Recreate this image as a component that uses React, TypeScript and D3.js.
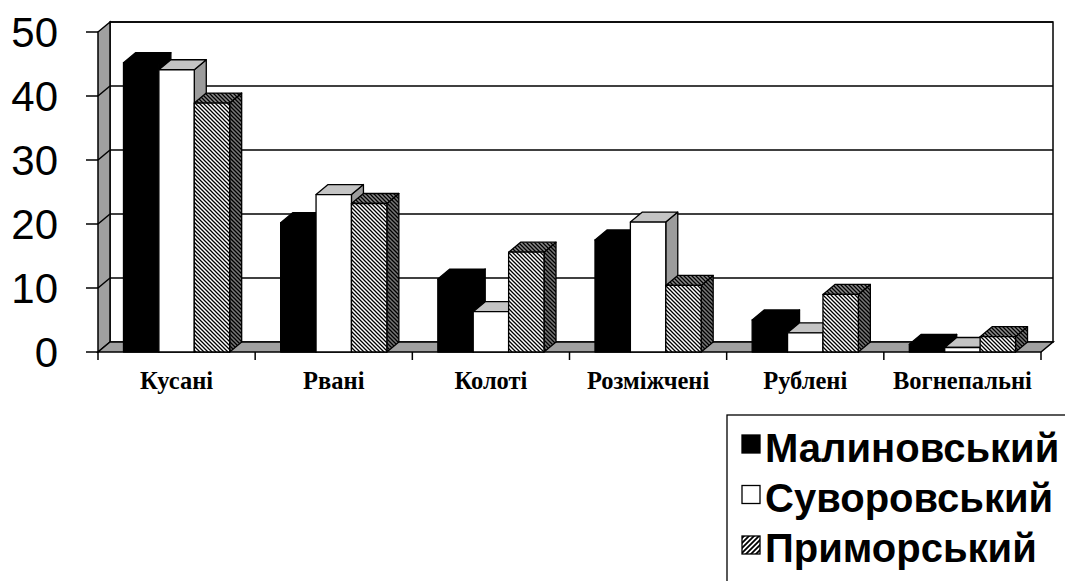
import * as d3 from 'd3';

const categories = ['Кусані', 'Рвані', 'Колоті', 'Розміжчені', 'Рублені', 'Вогнепальні'];
const seriesNames = ['Малиновський', 'Суворовський', 'Приморський'];
const malynovskyi = [45.2, 20.2, 11.4, 17.5, 5.0, 1.2];
const suvorovskyi = [44.1, 24.6, 6.3, 20.3, 3.0, 0.7];
const prymorskyi = [38.9, 23.2, 15.6, 10.4, 9.0, 2.4];
const yTicks = [0, 10, 20, 30, 40, 50];

const W = 1065;
const H = 581;
// 3D depth offset of the walls and columns
const DX = 12;
const DY = 10;
const left = 98;
const right = 1041;
const base = 352;
const top = 32;

const faces = [
  { front: '#000', top: '#000', side: '#000' },
  { front: '#fff', top: '#c4c4c4', side: '#9c9c9c' },
  { front: 'url(#hatchFront)', top: 'url(#hatchTop)', side: 'url(#hatchSide)' },
];
const legendFills = ['#000', '#fff', 'url(#hatchLegend)'];

const pts = (p: number[][]) => p.map(d => d.join(',')).join(' ');

export default function App() {
  const series = [malynovskyi, suvorovskyi, prymorskyi];
  const x = d3.scaleBand<string>().domain(categories).range([left, right]).padding(0);
  const xs = d3.scaleBand<number>().domain([0, 1, 2]).range([0, x.step()]).paddingInner(0).paddingOuter(0.72);
  const y = d3.scaleLinear().domain([0, 50]).range([base, top]);
  const bw = xs.bandwidth();

  const bars: JSX.Element[] = [];
  categories.forEach((c, ci) => {
    series.forEach((vals, si) => {
      const x0 = (x(c) as number) + (xs(si) as number);
      const yt = y(vals[ci]);
      const f = faces[si];
      bars.push(
        <g key={`${ci}-${si}`} stroke="#000" strokeWidth={1.3} strokeLinejoin="round">
          <polygon fill={f.side} points={pts([[x0 + bw, yt], [x0 + bw + DX, yt - DY], [x0 + bw + DX, base - DY], [x0 + bw, base]])} />
          <polygon fill={f.top} points={pts([[x0, yt], [x0 + DX, yt - DY], [x0 + bw + DX, yt - DY], [x0 + bw, yt]])} />
          <rect fill={f.front} x={x0} y={yt} width={bw} height={base - yt} />
        </g>
      );
    });
  });

  const boundaries = d3.range(categories.length + 1).map(i => left + i * x.step());

  return (
    <svg width={W} height={H} style={{ position: 'absolute', left: 0, top: 0, background: '#fff' }}>
      <defs>
        <pattern id="hatchFront" patternUnits="userSpaceOnUse" width={4} height={4}>
          <rect width={4} height={4} fill="#fff" />
          <path d="M-1,-1 L5,5 M-1,3 L1,5 M3,-1 L5,1" stroke="#000" strokeWidth={1.3} />
        </pattern>
        <pattern id="hatchTop" patternUnits="userSpaceOnUse" width={4} height={4}>
          <rect width={4} height={4} fill="#8a8a8a" />
          <path d="M-1,-1 L5,5 M-1,3 L1,5 M3,-1 L5,1" stroke="#000" strokeWidth={1.3} />
        </pattern>
        <pattern id="hatchSide" patternUnits="userSpaceOnUse" width={4} height={4}>
          <rect width={4} height={4} fill="#777" />
          <path d="M-1,-1 L5,5 M-1,3 L1,5 M3,-1 L5,1" stroke="#000" strokeWidth={1.3} />
        </pattern>
        <pattern id="hatchLegend" patternUnits="userSpaceOnUse" width={5} height={5}>
          <rect width={5} height={5} fill="#fff" />
          <path d="M-1,6 L6,-1 M-1,1 L1,-1 M4,6 L6,4" stroke="#000" strokeWidth={1.8} />
        </pattern>
      </defs>

      {/* back wall */}
      <rect x={left + DX} y={top - DY} width={right - left} height={base - top} fill="#fff" stroke="#000" strokeWidth={1.5} />
      {yTicks.slice(1).map(t => (
        <line key={`g${t}`} x1={left + DX} x2={right + DX} y1={y(t) - DY} y2={y(t) - DY} stroke="#000" strokeWidth={1.5} />
      ))}

      {/* side wall */}
      <polygon points={pts([[left, top], [left + DX, top - DY], [left + DX, base - DY], [left, base]])} fill="#a0a0a0" stroke="#000" strokeWidth={1.5} />
      {yTicks.slice(1, -1).map(t => (
        <line key={`w${t}`} x1={left} x2={left + DX} y1={y(t)} y2={y(t) - DY} stroke="#000" strokeWidth={1.5} />
      ))}

      {/* floor */}
      <polygon points={pts([[left, base], [left + DX, base - DY], [right + DX, base - DY], [right, base]])} fill="#a0a0a0" stroke="#000" strokeWidth={1.5} />

      {/* axes ticks */}
      {yTicks.map(t => (
        <g key={`t${t}`}>
          <line x1={left - 12} x2={left} y1={y(t)} y2={y(t)} stroke="#000" strokeWidth={1.5} />
          <text x={58} y={y(t) + 15} textAnchor="end" fontFamily="'Liberation Sans', Arial, sans-serif" fontSize={42}>{t}</text>
        </g>
      ))}
      {boundaries.map((b, i) => (
        <line key={`b${i}`} x1={b} x2={b} y1={base} y2={base + 8} stroke="#000" strokeWidth={1.5} />
      ))}

      {bars}

      {categories.map(c => (
        <text key={c} x={(x(c) as number) + x.bandwidth() / 2} y={389} textAnchor="middle"
          fontFamily="'Liberation Serif', 'Times New Roman', serif" fontWeight="bold" fontSize={24.5}>{c}</text>
      ))}

      {/* legend */}
      <rect x={727} y={415} width={400} height={200} fill="#fff" stroke="#000" strokeWidth={1.3} />
      {seriesNames.map((s, i) => (
        <g key={s}>
          <rect x={742} y={435 + i * 50.5} width={18} height={18} fill={legendFills[i]} stroke="#000" strokeWidth={1.3} />
          <text x={765} y={462 + i * 50} fontFamily="'Liberation Sans', Arial, sans-serif" fontWeight="bold" fontSize={40}>{s}</text>
        </g>
      ))}
    </svg>
  );
}
